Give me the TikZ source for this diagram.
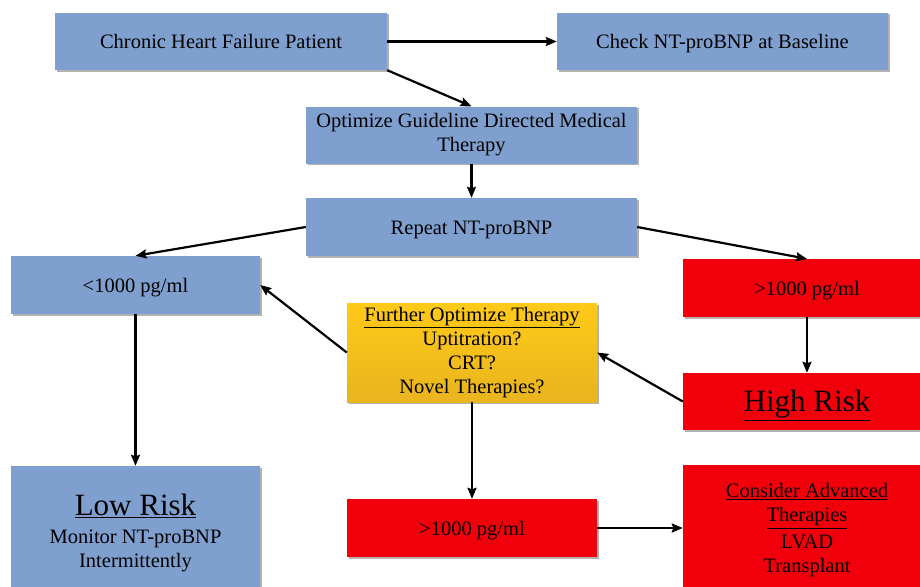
\documentclass[tikz,border=0pt]{standalone}
\usepackage{fontspec}
\setmainfont{Liberation Serif}
\usetikzlibrary{arrows.meta,shadows}
\definecolor{boxblue}{RGB}{127,160,207}
\definecolor{boxred}{RGB}{241,0,12}
\definecolor{ytop}{RGB}{255,202,24}
\definecolor{ybot}{RGB}{233,180,30}
\newcommand{\normsz}{\fontsize{20.5}{24}\selectfont}
\newcommand{\widesz}{\fontsize{20.5}{24}\selectfont}
\newcommand{\bigsz}{\fontsize{31}{34}\selectfont}
\tikzset{
  box/.style={rectangle, inner sep=0pt, align=center, font=\normsz, text=black,
    drop shadow={shadow xshift=1.5pt, shadow yshift=-1.5pt, opacity=0.3, fill=black}},
  single/.style={text height=14pt, text depth=0pt},
  bigsingle/.style={text height=20.5pt, text depth=0pt},
  bluebox/.style={box, fill=boxblue},
  redbox/.style={box, fill=boxred},
  yellowbox/.style={box, top color=ytop, bottom color=ybot},
  conn/.style={draw=black, line width=2.2pt, -{Stealth[length=11pt,width=9pt,inset=1.5pt]}}
}
\begin{document}
\begin{tikzpicture}[x=1pt,y=-1pt]
\useasboundingbox (0,0) rectangle (920,586);
\fill[white] (0,0) rectangle (920,586);
\clip (0,0) rectangle (920,586);

\node[bluebox, single, minimum width=332pt, minimum height=57pt] (b1) at (221,41.5) {Chronic Heart Failure Patient};
\node[bluebox, single, minimum width=331pt, minimum height=57pt] (b2) at (722.5,41.5) {Check NT-proBNP at Baseline};
\node[bluebox, minimum width=331pt, minimum height=57pt] (b3) at (471.5,135) {Optimize Guideline Directed Medical\\Therapy};
\node[bluebox, single, minimum width=331pt, minimum height=58pt] (b4) at (471.5,227) {Repeat NT-proBNP};
\node[bluebox, single, minimum width=249pt, minimum height=58pt] (b5) at (135.5,285) {<1000 pg/ml};
\node[yellowbox, minimum width=250pt, minimum height=99pt] (y) at (472,352.5) {\underline{Further Optimize Therapy}\\Uptitration?\\CRT?\\Novel Therapies?};
\node[redbox, single, minimum width=248pt, minimum height=58pt] (r1) at (807,288) {>1000 pg/ml};
\node[redbox, bigsingle, minimum width=248pt, minimum height=57pt] (hr) at (807,401.5) {\bigsz\underline{High Risk}};
\node[bluebox, minimum width=249pt, minimum height=134pt] (low) at (135.5,533) {{\bigsz\underline{Low Risk}}\\[4pt]Monitor NT-proBNP\\Intermittently};
\node[redbox, single, minimum width=250pt, minimum height=58pt] (r2) at (472,528) {>1000 pg/ml};
\node[redbox, font=\widesz, minimum width=248pt, minimum height=131pt] (cons) at (807,530.5) {\underline{Consider Advanced}\\\underline{Therapies}\\[3pt]LVAD\\Transplant};

\draw[conn] (b1.east) -- (b2.west);
\draw[conn] (b1.south east) -- (b3.north);
\draw[conn] (b3.south) -- (b4.north);
\draw[conn] (b4.west) -- (b5.north);
\draw[conn] (b4.east) -- (r1.north);
\draw[conn] (y.west) -- (b5.east);
\draw[conn] (hr.west) -- (y.east);
\draw[conn] (r1.south) -- (hr.north);
\draw[conn] (b5.south) -- (low.north);
\draw[conn] (y.south) -- (r2.north);
\draw[conn] (r2.east) -- (r2.east -| cons.west);
\end{tikzpicture}
\end{document}
